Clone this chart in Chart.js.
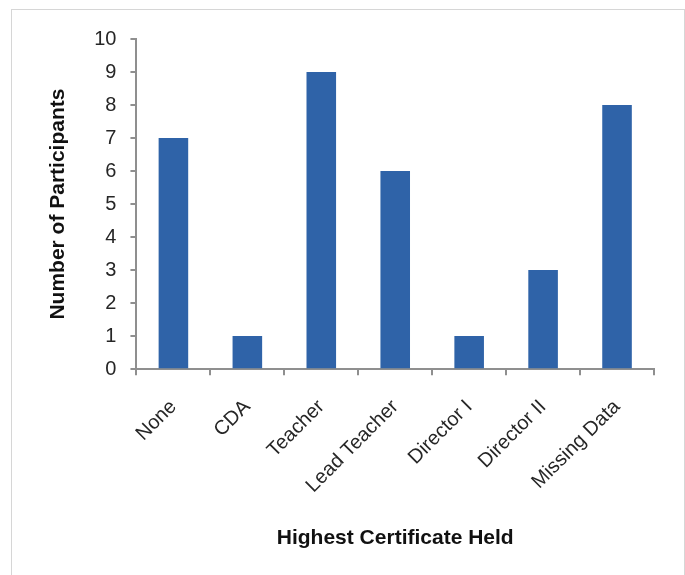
<!DOCTYPE html>
<html>
<head>
<meta charset="utf-8">
<script src="https://cdn.jsdelivr.net/npm/chart.js@4/dist/chart.umd.min.js"></script>
<style>
  html, body { margin: 0; padding: 0; background: #fff; }
  #frame {
    position: absolute; left: 11px; top: 9px;
    width: 672px; height: 600px;
    border: 1px solid #d6d6d6;
  }
  #wrap { position: absolute; left: 0; top: 0; width: 685px; height: 575px; }
</style>
</head>
<body>
<div id="frame"></div>
<div id="wrap"><canvas id="certChart" width="685" height="575"></canvas></div>
<script>
const categories = ['None', 'CDA', 'Teacher', 'Lead Teacher', 'Director I', 'Director II', 'Missing Data'];
const participants = [7, 1, 9, 6, 1, 3, 8];
const yTicks = [0, 1, 2, 3, 4, 5, 6, 7, 8, 9, 10];

const axisGray = '#8f8f8f';
const fontFamily = '"Liberation Sans", Arial, sans-serif';

new Chart(document.getElementById('certChart'), {
    type: 'bar',
    data: {
        labels: categories,
        datasets: [{
            data: participants,
            backgroundColor: '#2F63A8',
            borderWidth: 0,
            categoryPercentage: 1.0,
            barPercentage: 0.4
        }]
    },
    options: {
        responsive: false,
        animation: false,
        layout: { padding: { left: 42, top: 39, right: 31, bottom: 20 } },
        plugins: { legend: { display: false }, tooltip: { enabled: false } },
        scales: {
            x: {
                grid: { drawOnChartArea: false, tickLength: 6, color: axisGray, lineWidth: 2, offset: true },
                border: { color: axisGray, width: 2 },
                ticks: {
                    color: '#262626',
                    font: { family: fontFamily, size: 20 },
                    minRotation: 45, maxRotation: 45,
                    padding: 20
                },
                title: {
                    display: true,
                    text: 'Highest Certificate Held',
                    color: '#111',
                    font: { family: fontFamily, size: 21, weight: 'bold' },
                    padding: { top: 8, bottom: 4 }
                }
            },
            y: {
                min: 0, max: 10,
                afterBuildTicks: axis => { axis.ticks = yTicks.map(v => ({ value: v })); },
                grid: { drawOnChartArea: false, tickLength: 6, color: axisGray, lineWidth: 2 },
                border: { color: axisGray, width: 2 },
                ticks: {
                    color: '#262626',
                    font: { family: fontFamily, size: 20 },
                    padding: 14
                },
                title: {
                    display: true,
                    text: 'Number of Participants',
                    color: '#111',
                    font: { family: fontFamily, size: 21, weight: 'bold' },
                    padding: { top: 4, bottom: 9 }
                }
            }
        }
    }
});
</script>
</body>
</html>
